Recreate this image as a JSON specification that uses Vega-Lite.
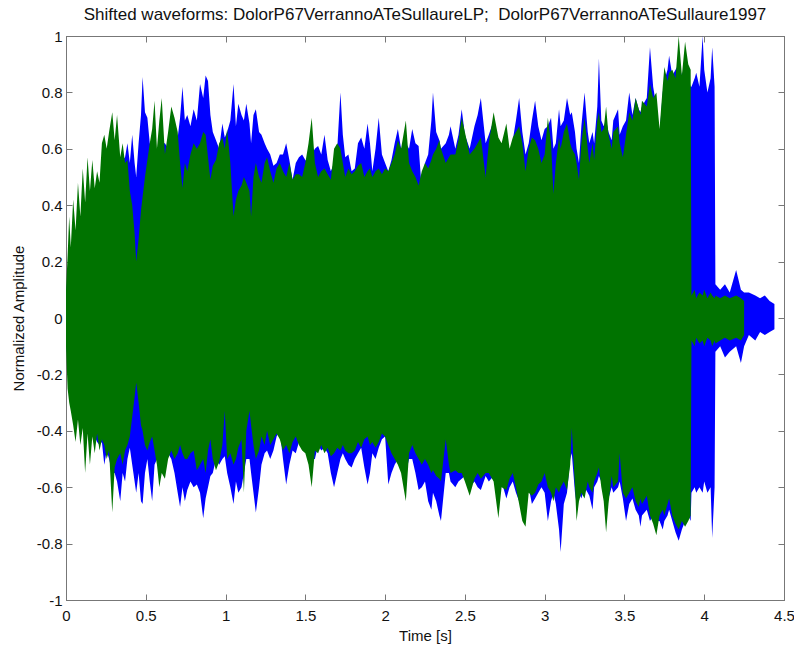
{
  "$schema": "https://vega.github.io/schema/vega-lite/v6.json",
  "width": 718,
  "height": 564,
  "autosize": {"type": "none"},
  "padding": {"left": 66, "top": 36, "right": 10, "bottom": 46},
  "background": "white",
  "title": {"text": "Shifted waveforms: DolorP67VerrannoATeSullaureLP;\u00a0 DolorP67VerrannoATeSullaure1997", "font": "Liberation Sans", "fontSize": 17, "fontWeight": "normal", "color": "#111", "offset": 5},
  "config": {
    "view": {"stroke": "#777", "strokeWidth": 1},
    "axis": {"labelFont": "Liberation Sans", "titleFont": "Liberation Sans", "labelFontSize": 15, "titleFontSize": 15, "titleFontWeight": "normal", "labelColor": "#111", "titleColor": "#111", "grid": false, "domainColor": "#777", "tickColor": "#777", "tickSize": -6, "labelFlush": false}
  },
  "data": {"values": [
{"t":0.000,"gh":0.10,"bh":0.08,"gl":-0.10,"bl":-0.08},
{"t":0.010,"gh":0.22,"bh":0.15,"gl":-0.25,"bl":-0.15},
{"t":0.020,"gh":0.36,"bh":0.20,"gl":-0.30,"bl":-0.20},
{"t":0.030,"gh":0.25,"bh":0.22,"gl":-0.33,"bl":-0.22},
{"t":0.045,"gh":0.42,"bh":0.25,"gl":-0.38,"bl":-0.25},
{"t":0.060,"gh":0.31,"bh":0.27,"gl":-0.44,"bl":-0.28},
{"t":0.075,"gh":0.48,"bh":0.30,"gl":-0.36,"bl":-0.30},
{"t":0.090,"gh":0.36,"bh":0.32,"gl":-0.45,"bl":-0.33},
{"t":0.105,"gh":0.53,"bh":0.34,"gl":-0.39,"bl":-0.35},
{"t":0.120,"gh":0.41,"bh":0.36,"gl":-0.55,"bl":-0.37},
{"t":0.135,"gh":0.57,"bh":0.38,"gl":-0.41,"bl":-0.38},
{"t":0.150,"gh":0.45,"bh":0.40,"gl":-0.52,"bl":-0.40},
{"t":0.165,"gh":0.56,"bh":0.42,"gl":-0.42,"bl":-0.40},
{"t":0.180,"gh":0.46,"bh":0.43,"gl":-0.48,"bl":-0.42},
{"t":0.195,"gh":0.52,"bh":0.45,"gl":-0.41,"bl":-0.44},
{"t":0.210,"gh":0.48,"bh":0.46,"gl":-0.47,"bl":-0.45},
{"t":0.225,"gh":0.62,"bh":0.48,"gl":-0.43,"bl":-0.44},
{"t":0.240,"gh":0.65,"bh":0.50,"gl":-0.45,"bl":-0.52},
{"t":0.255,"gh":0.60,"bh":0.52,"gl":-0.50,"bl":-0.47},
{"t":0.270,"gh":0.66,"bh":0.55,"gl":-0.47,"bl":-0.50},
{"t":0.290,"gh":0.73,"bh":0.58,"gl":-0.69,"bl":-0.55},
{"t":0.305,"gh":0.63,"bh":0.60,"gl":-0.53,"bl":-0.55},
{"t":0.320,"gh":0.72,"bh":0.60,"gl":-0.50,"bl":-0.58},
{"t":0.340,"gh":0.57,"bh":0.55,"gl":-0.48,"bl":-0.65},
{"t":0.355,"gh":0.62,"bh":0.56,"gl":-0.52,"bl":-0.55},
{"t":0.370,"gh":0.55,"bh":0.57,"gl":-0.47,"bl":-0.58},
{"t":0.385,"gh":0.56,"bh":0.62,"gl":-0.45,"bl":-0.50},
{"t":0.400,"gh":0.45,"bh":0.55,"gl":-0.42,"bl":-0.46},
{"t":0.415,"gh":0.40,"bh":0.65,"gl":-0.35,"bl":-0.52},
{"t":0.430,"gh":0.30,"bh":0.55,"gl":-0.28,"bl":-0.58},
{"t":0.440,"gh":0.20,"bh":0.50,"gl":-0.23,"bl":-0.62},
{"t":0.455,"gh":0.28,"bh":0.62,"gl":-0.30,"bl":-0.55},
{"t":0.470,"gh":0.38,"bh":0.72,"gl":-0.38,"bl":-0.65},
{"t":0.480,"gh":0.43,"bh":0.855,"gl":-0.40,"bl":-0.66},
{"t":0.495,"gh":0.50,"bh":0.73,"gl":-0.45,"bl":-0.55},
{"t":0.510,"gh":0.56,"bh":0.71,"gl":-0.47,"bl":-0.50},
{"t":0.525,"gh":0.62,"bh":0.62,"gl":-0.44,"bl":-0.58},
{"t":0.540,"gh":0.67,"bh":0.60,"gl":-0.42,"bl":-0.65},
{"t":0.555,"gh":0.77,"bh":0.62,"gl":-0.47,"bl":-0.52},
{"t":0.570,"gh":0.60,"bh":0.58,"gl":-0.52,"bl":-0.50},
{"t":0.585,"gh":0.70,"bh":0.58,"gl":-0.60,"bl":-0.55},
{"t":0.600,"gh":0.78,"bh":0.62,"gl":-0.55,"bl":-0.52},
{"t":0.620,"gh":0.58,"bh":0.62,"gl":-0.57,"bl":-0.50},
{"t":0.640,"gh":0.66,"bh":0.60,"gl":-0.50,"bl":-0.48},
{"t":0.660,"gh":0.75,"bh":0.62,"gl":-0.47,"bl":-0.50},
{"t":0.680,"gh":0.71,"bh":0.63,"gl":-0.50,"bl":-0.55},
{"t":0.700,"gh":0.66,"bh":0.64,"gl":-0.48,"bl":-0.62},
{"t":0.715,"gh":0.55,"bh":0.71,"gl":-0.45,"bl":-0.67},
{"t":0.730,"gh":0.46,"bh":0.82,"gl":-0.48,"bl":-0.60},
{"t":0.745,"gh":0.55,"bh":0.70,"gl":-0.50,"bl":-0.65},
{"t":0.760,"gh":0.52,"bh":0.72,"gl":-0.50,"bl":-0.61},
{"t":0.780,"gh":0.58,"bh":0.68,"gl":-0.48,"bl":-0.58},
{"t":0.800,"gh":0.62,"bh":0.74,"gl":-0.47,"bl":-0.60},
{"t":0.820,"gh":0.60,"bh":0.70,"gl":-0.54,"bl":-0.59},
{"t":0.840,"gh":0.62,"bh":0.83,"gl":-0.52,"bl":-0.62},
{"t":0.860,"gh":0.66,"bh":0.78,"gl":-0.50,"bl":-0.71},
{"t":0.875,"gh":0.65,"bh":0.86,"gl":-0.55,"bl":-0.64},
{"t":0.890,"gh":0.57,"bh":0.84,"gl":-0.47,"bl":-0.60},
{"t":0.905,"gh":0.49,"bh":0.72,"gl":-0.43,"bl":-0.56},
{"t":0.920,"gh":0.54,"bh":0.66,"gl":-0.50,"bl":-0.55},
{"t":0.940,"gh":0.56,"bh":0.63,"gl":-0.54,"bl":-0.50},
{"t":0.960,"gh":0.62,"bh":0.60,"gl":-0.51,"bl":-0.52},
{"t":0.980,"gh":0.64,"bh":0.69,"gl":-0.45,"bl":-0.50},
{"t":0.995,"gh":0.60,"bh":0.64,"gl":-0.33,"bl":-0.49},
{"t":1.010,"gh":0.67,"bh":0.66,"gl":-0.50,"bl":-0.55},
{"t":1.030,"gh":0.55,"bh":0.70,"gl":-0.48,"bl":-0.60},
{"t":1.050,"gh":0.36,"bh":0.83,"gl":-0.52,"bl":-0.66},
{"t":1.065,"gh":0.42,"bh":0.68,"gl":-0.50,"bl":-0.58},
{"t":1.080,"gh":0.45,"bh":0.76,"gl":-0.46,"bl":-0.62},
{"t":1.100,"gh":0.47,"bh":0.72,"gl":-0.43,"bl":-0.60},
{"t":1.115,"gh":0.50,"bh":0.70,"gl":-0.62,"bl":-0.55},
{"t":1.130,"gh":0.48,"bh":0.76,"gl":-0.40,"bl":-0.50},
{"t":1.150,"gh":0.45,"bh":0.69,"gl":-0.33,"bl":-0.50},
{"t":1.160,"gh":0.36,"bh":0.62,"gl":-0.38,"bl":-0.55},
{"t":1.175,"gh":0.50,"bh":0.72,"gl":-0.45,"bl":-0.62},
{"t":1.190,"gh":0.55,"bh":0.74,"gl":-0.50,"bl":-0.69},
{"t":1.210,"gh":0.50,"bh":0.66,"gl":-0.47,"bl":-0.60},
{"t":1.225,"gh":0.48,"bh":0.65,"gl":-0.42,"bl":-0.52},
{"t":1.245,"gh":0.55,"bh":0.62,"gl":-0.45,"bl":-0.48},
{"t":1.260,"gh":0.57,"bh":0.60,"gl":-0.40,"bl":-0.47},
{"t":1.280,"gh":0.52,"bh":0.58,"gl":-0.45,"bl":-0.50},
{"t":1.300,"gh":0.48,"bh":0.54,"gl":-0.43,"bl":-0.47},
{"t":1.320,"gh":0.53,"bh":0.55,"gl":-0.41,"bl":-0.42},
{"t":1.340,"gh":0.55,"bh":0.58,"gl":-0.43,"bl":-0.40},
{"t":1.360,"gh":0.52,"bh":0.58,"gl":-0.47,"bl":-0.50},
{"t":1.380,"gh":0.50,"bh":0.62,"gl":-0.45,"bl":-0.59},
{"t":1.400,"gh":0.55,"bh":0.56,"gl":-0.48,"bl":-0.52},
{"t":1.420,"gh":0.49,"bh":0.49,"gl":-0.44,"bl":-0.47},
{"t":1.440,"gh":0.51,"bh":0.55,"gl":-0.42,"bl":-0.48},
{"t":1.460,"gh":0.51,"bh":0.57,"gl":-0.45,"bl":-0.44},
{"t":1.480,"gh":0.50,"bh":0.58,"gl":-0.47,"bl":-0.42},
{"t":1.500,"gh":0.55,"bh":0.56,"gl":-0.48,"bl":-0.45},
{"t":1.520,"gh":0.62,"bh":0.55,"gl":-0.52,"bl":-0.48},
{"t":1.540,"gh":0.71,"bh":0.58,"gl":-0.60,"bl":-0.50},
{"t":1.560,"gh":0.55,"bh":0.60,"gl":-0.47,"bl":-0.50},
{"t":1.580,"gh":0.50,"bh":0.61,"gl":-0.48,"bl":-0.45},
{"t":1.600,"gh":0.52,"bh":0.58,"gl":-0.45,"bl":-0.47},
{"t":1.620,"gh":0.53,"bh":0.65,"gl":-0.48,"bl":-0.46},
{"t":1.640,"gh":0.51,"bh":0.56,"gl":-0.46,"bl":-0.48},
{"t":1.660,"gh":0.49,"bh":0.52,"gl":-0.49,"bl":-0.55},
{"t":1.680,"gh":0.60,"bh":0.55,"gl":-0.48,"bl":-0.60},
{"t":1.700,"gh":0.62,"bh":0.60,"gl":-0.46,"bl":-0.55},
{"t":1.720,"gh":0.60,"bh":0.80,"gl":-0.47,"bl":-0.50},
{"t":1.735,"gh":0.55,"bh":0.65,"gl":-0.45,"bl":-0.48},
{"t":1.750,"gh":0.50,"bh":0.57,"gl":-0.47,"bl":-0.50},
{"t":1.770,"gh":0.53,"bh":0.58,"gl":-0.48,"bl":-0.52},
{"t":1.790,"gh":0.51,"bh":0.52,"gl":-0.48,"bl":-0.53},
{"t":1.810,"gh":0.52,"bh":0.53,"gl":-0.47,"bl":-0.50},
{"t":1.830,"gh":0.54,"bh":0.62,"gl":-0.44,"bl":-0.48},
{"t":1.850,"gh":0.55,"bh":0.64,"gl":-0.46,"bl":-0.46},
{"t":1.870,"gh":0.50,"bh":0.60,"gl":-0.43,"bl":-0.53},
{"t":1.890,"gh":0.52,"bh":0.69,"gl":-0.42,"bl":-0.59},
{"t":1.905,"gh":0.53,"bh":0.62,"gl":-0.45,"bl":-0.55},
{"t":1.920,"gh":0.50,"bh":0.52,"gl":-0.44,"bl":-0.48},
{"t":1.940,"gh":0.52,"bh":0.60,"gl":-0.46,"bl":-0.50},
{"t":1.960,"gh":0.53,"bh":0.71,"gl":-0.44,"bl":-0.46},
{"t":1.980,"gh":0.51,"bh":0.58,"gl":-0.41,"bl":-0.43},
{"t":2.000,"gh":0.53,"bh":0.55,"gl":-0.42,"bl":-0.42},
{"t":2.020,"gh":0.52,"bh":0.52,"gl":-0.45,"bl":-0.59},
{"t":2.040,"gh":0.55,"bh":0.56,"gl":-0.48,"bl":-0.55},
{"t":2.060,"gh":0.58,"bh":0.62,"gl":-0.50,"bl":-0.52},
{"t":2.080,"gh":0.63,"bh":0.67,"gl":-0.52,"bl":-0.50},
{"t":2.100,"gh":0.60,"bh":0.60,"gl":-0.55,"bl":-0.52},
{"t":2.130,"gh":0.70,"bh":0.62,"gl":-0.65,"bl":-0.55},
{"t":2.150,"gh":0.55,"bh":0.60,"gl":-0.48,"bl":-0.50},
{"t":2.170,"gh":0.52,"bh":0.67,"gl":-0.45,"bl":-0.50},
{"t":2.190,"gh":0.50,"bh":0.62,"gl":-0.48,"bl":-0.55},
{"t":2.210,"gh":0.47,"bh":0.61,"gl":-0.50,"bl":-0.61},
{"t":2.230,"gh":0.52,"bh":0.45,"gl":-0.52,"bl":-0.60},
{"t":2.250,"gh":0.55,"bh":0.55,"gl":-0.50,"bl":-0.58},
{"t":2.270,"gh":0.53,"bh":0.58,"gl":-0.52,"bl":-0.65},
{"t":2.290,"gh":0.56,"bh":0.70,"gl":-0.55,"bl":-0.68},
{"t":2.300,"gh":0.58,"bh":0.80,"gl":-0.54,"bl":-0.62},
{"t":2.320,"gh":0.60,"bh":0.66,"gl":-0.56,"bl":-0.65},
{"t":2.340,"gh":0.63,"bh":0.63,"gl":-0.57,"bl":-0.70},
{"t":2.350,"gh":0.60,"bh":0.60,"gl":-0.58,"bl":-0.72},
{"t":2.380,"gh":0.55,"bh":0.62,"gl":-0.43,"bl":-0.55},
{"t":2.400,"gh":0.57,"bh":0.65,"gl":-0.52,"bl":-0.55},
{"t":2.410,"gh":0.58,"bh":0.68,"gl":-0.55,"bl":-0.58},
{"t":2.440,"gh":0.58,"bh":0.60,"gl":-0.54,"bl":-0.60},
{"t":2.460,"gh":0.63,"bh":0.65,"gl":-0.55,"bl":-0.58},
{"t":2.480,"gh":0.71,"bh":0.74,"gl":-0.55,"bl":-0.57},
{"t":2.500,"gh":0.66,"bh":0.65,"gl":-0.58,"bl":-0.56},
{"t":2.530,"gh":0.58,"bh":0.60,"gl":-0.63,"bl":-0.60},
{"t":2.560,"gh":0.60,"bh":0.68,"gl":-0.57,"bl":-0.58},
{"t":2.580,"gh":0.62,"bh":0.72,"gl":-0.55,"bl":-0.60},
{"t":2.600,"gh":0.64,"bh":0.78,"gl":-0.57,"bl":-0.61},
{"t":2.630,"gh":0.50,"bh":0.62,"gl":-0.55,"bl":-0.56},
{"t":2.650,"gh":0.62,"bh":0.65,"gl":-0.55,"bl":-0.58},
{"t":2.680,"gh":0.73,"bh":0.70,"gl":-0.58,"bl":-0.56},
{"t":2.710,"gh":0.64,"bh":0.60,"gl":-0.71,"bl":-0.60},
{"t":2.730,"gh":0.62,"bh":0.58,"gl":-0.60,"bl":-0.58},
{"t":2.760,"gh":0.69,"bh":0.62,"gl":-0.61,"bl":-0.64},
{"t":2.780,"gh":0.60,"bh":0.58,"gl":-0.57,"bl":-0.60},
{"t":2.800,"gh":0.64,"bh":0.63,"gl":-0.55,"bl":-0.58},
{"t":2.820,"gh":0.66,"bh":0.70,"gl":-0.60,"bl":-0.62},
{"t":2.840,"gh":0.68,"bh":0.78,"gl":-0.66,"bl":-0.65},
{"t":2.860,"gh":0.62,"bh":0.66,"gl":-0.72,"bl":-0.68},
{"t":2.880,"gh":0.52,"bh":0.58,"gl":-0.74,"bl":-0.65},
{"t":2.900,"gh":0.60,"bh":0.62,"gl":-0.62,"bl":-0.60},
{"t":2.920,"gh":0.64,"bh":0.70,"gl":-0.63,"bl":-0.66},
{"t":2.940,"gh":0.63,"bh":0.77,"gl":-0.62,"bl":-0.64},
{"t":2.960,"gh":0.60,"bh":0.68,"gl":-0.59,"bl":-0.62},
{"t":2.980,"gh":0.55,"bh":0.63,"gl":-0.58,"bl":-0.60},
{"t":3.000,"gh":0.58,"bh":0.67,"gl":-0.55,"bl":-0.62},
{"t":3.020,"gh":0.71,"bh":0.68,"gl":-0.60,"bl":-0.72},
{"t":3.040,"gh":0.62,"bh":0.71,"gl":-0.62,"bl":-0.65},
{"t":3.055,"gh":0.44,"bh":0.60,"gl":-0.65,"bl":-0.62},
{"t":3.070,"gh":0.55,"bh":0.62,"gl":-0.60,"bl":-0.66},
{"t":3.090,"gh":0.64,"bh":0.74,"gl":-0.62,"bl":-0.75},
{"t":3.100,"gh":0.60,"bh":0.68,"gl":-0.60,"bl":-0.83},
{"t":3.120,"gh":0.66,"bh":0.70,"gl":-0.58,"bl":-0.66},
{"t":3.140,"gh":0.69,"bh":0.78,"gl":-0.61,"bl":-0.62},
{"t":3.160,"gh":0.62,"bh":0.72,"gl":-0.52,"bl":-0.50},
{"t":3.170,"gh":0.60,"bh":0.73,"gl":-0.39,"bl":-0.48},
{"t":3.190,"gh":0.58,"bh":0.66,"gl":-0.60,"bl":-0.62},
{"t":3.200,"gh":0.55,"bh":0.60,"gl":-0.72,"bl":-0.66},
{"t":3.215,"gh":0.49,"bh":0.55,"gl":-0.65,"bl":-0.62},
{"t":3.230,"gh":0.62,"bh":0.68,"gl":-0.62,"bl":-0.64},
{"t":3.250,"gh":0.71,"bh":0.80,"gl":-0.64,"bl":-0.60},
{"t":3.270,"gh":0.60,"bh":0.66,"gl":-0.58,"bl":-0.62},
{"t":3.280,"gh":0.55,"bh":0.62,"gl":-0.60,"bl":-0.63},
{"t":3.300,"gh":0.62,"bh":0.66,"gl":-0.62,"bl":-0.68},
{"t":3.310,"gh":0.56,"bh":0.62,"gl":-0.58,"bl":-0.60},
{"t":3.330,"gh":0.70,"bh":0.75,"gl":-0.55,"bl":-0.58},
{"t":3.340,"gh":0.73,"bh":0.92,"gl":-0.53,"bl":-0.56},
{"t":3.355,"gh":0.66,"bh":0.70,"gl":-0.60,"bl":-0.58},
{"t":3.370,"gh":0.67,"bh":0.68,"gl":-0.65,"bl":-0.62},
{"t":3.385,"gh":0.75,"bh":0.70,"gl":-0.76,"bl":-0.66},
{"t":3.400,"gh":0.65,"bh":0.66,"gl":-0.66,"bl":-0.64},
{"t":3.420,"gh":0.60,"bh":0.63,"gl":-0.56,"bl":-0.60},
{"t":3.430,"gh":0.66,"bh":0.70,"gl":-0.60,"bl":-0.62},
{"t":3.460,"gh":0.68,"bh":0.74,"gl":-0.58,"bl":-0.60},
{"t":3.470,"gh":0.62,"bh":0.65,"gl":-0.48,"bl":-0.58},
{"t":3.490,"gh":0.57,"bh":0.68,"gl":-0.62,"bl":-0.64},
{"t":3.510,"gh":0.65,"bh":0.70,"gl":-0.64,"bl":-0.72},
{"t":3.530,"gh":0.73,"bh":0.80,"gl":-0.62,"bl":-0.66},
{"t":3.550,"gh":0.70,"bh":0.72,"gl":-0.60,"bl":-0.64},
{"t":3.570,"gh":0.78,"bh":0.78,"gl":-0.65,"bl":-0.68},
{"t":3.590,"gh":0.74,"bh":0.74,"gl":-0.67,"bl":-0.70},
{"t":3.600,"gh":0.72,"bh":0.73,"gl":-0.64,"bl":-0.74},
{"t":3.610,"gh":0.77,"bh":0.75,"gl":-0.66,"bl":-0.70},
{"t":3.640,"gh":0.75,"bh":0.78,"gl":-0.63,"bl":-0.68},
{"t":3.660,"gh":0.83,"bh":0.96,"gl":-0.70,"bl":-0.72},
{"t":3.680,"gh":0.78,"bh":0.82,"gl":-0.73,"bl":-0.70},
{"t":3.700,"gh":0.80,"bh":0.75,"gl":-0.77,"bl":-0.72},
{"t":3.720,"gh":0.67,"bh":0.65,"gl":-0.70,"bl":-0.72},
{"t":3.740,"gh":0.82,"bh":0.80,"gl":-0.68,"bl":-0.75},
{"t":3.750,"gh":0.89,"bh":0.84,"gl":-0.70,"bl":-0.72},
{"t":3.770,"gh":0.84,"bh":0.88,"gl":-0.66,"bl":-0.70},
{"t":3.780,"gh":0.87,"bh":0.93,"gl":-0.64,"bl":-0.68},
{"t":3.800,"gh":0.88,"bh":0.86,"gl":-0.70,"bl":-0.72},
{"t":3.820,"gh":0.85,"bh":0.88,"gl":-0.73,"bl":-0.76},
{"t":3.840,"gh":1.00,"bh":0.90,"gl":-0.75,"bl":-0.79},
{"t":3.860,"gh":0.86,"bh":0.86,"gl":-0.72,"bl":-0.75},
{"t":3.880,"gh":0.98,"bh":0.90,"gl":-0.74,"bl":-0.72},
{"t":3.900,"gh":0.90,"bh":0.85,"gl":-0.72,"bl":-0.70},
{"t":3.915,"gh":0.88,"bh":0.82,"gl":-0.70,"bl":-0.72},
{"t":3.920,"gh":0.08,"bh":0.82,"gl":-0.08,"bl":-0.62},
{"t":3.940,"gh":0.10,"bh":0.85,"gl":-0.10,"bl":-0.60},
{"t":3.950,"gh":0.07,"bh":0.87,"gl":-0.07,"bl":-0.62},
{"t":3.970,"gh":0.09,"bh":0.82,"gl":-0.09,"bl":-0.60},
{"t":3.990,"gh":0.08,"bh":1.00,"gl":-0.08,"bl":-0.62},
{"t":4.000,"gh":0.10,"bh":0.88,"gl":-0.10,"bl":-0.58},
{"t":4.020,"gh":0.07,"bh":0.80,"gl":-0.07,"bl":-0.62},
{"t":4.040,"gh":0.09,"bh":0.85,"gl":-0.08,"bl":-0.60},
{"t":4.050,"gh":0.08,"bh":0.96,"gl":-0.10,"bl":-0.78},
{"t":4.065,"gh":0.07,"bh":0.82,"gl":-0.08,"bl":-0.60},
{"t":4.070,"gh":0.08,"bh":0.12,"gl":-0.09,"bl":-0.12},
{"t":4.100,"gh":0.07,"bh":0.10,"gl":-0.08,"bl":-0.10},
{"t":4.130,"gh":0.08,"bh":0.12,"gl":-0.07,"bl":-0.14},
{"t":4.160,"gh":0.07,"bh":0.09,"gl":-0.08,"bl":-0.12},
{"t":4.200,"gh":0.08,"bh":0.17,"gl":-0.07,"bl":-0.10},
{"t":4.230,"gh":0.07,"bh":0.10,"gl":-0.08,"bl":-0.16},
{"t":4.250,"gh":0.06,"bh":0.09,"gl":-0.06,"bl":-0.10},
{"t":4.280,"bh":0.09,"bl":-0.06},
{"t":4.320,"bh":0.08,"bl":-0.08},
{"t":4.350,"bh":0.07,"bl":-0.05},
{"t":4.380,"bh":0.08,"bl":-0.06},
{"t":4.410,"bh":0.06,"bl":-0.05},
{"t":4.440,"bh":0.05,"bl":-0.04}
  ]},
  "resolve": {"axis": {"x": "independent", "y": "independent"}},
  "layer": [
    {
      "mark": {"type": "area", "color": "#0000ff", "interpolate": "linear"},
      "encoding": {
        "x": {"field": "t", "type": "quantitative", "scale": {"domain": [0, 4.5], "nice": false, "zero": false},
              "axis": {"orient": "bottom", "title": "Time [s]", "values": [0,0.5,1,1.5,2,2.5,3,3.5,4,4.5], "format": "~g", "labelPadding": 14, "titlePadding": 5}},
        "y": {"field": "bh", "type": "quantitative", "scale": {"domain": [-1, 1], "nice": false, "zero": false},
              "axis": {"orient": "left", "title": "Normalized Amplitude", "values": [-1,-0.8,-0.6,-0.4,-0.2,0,0.2,0.4,0.6,0.8,1], "format": "~g", "labelExpr": "replace(datum.label, '\u2212', '-')", "labelPadding": 10, "titlePadding": 10}},
        "y2": {"field": "bl"}
      }
    },
    {
      "mark": {"type": "area", "color": "#007300", "interpolate": "linear"},
      "encoding": {
        "x": {"field": "t", "type": "quantitative", "axis": {"orient": "top", "title": null, "labels": false, "values": [0,0.5,1,1.5,2,2.5,3,3.5,4,4.5]}},
        "y": {"field": "gh", "type": "quantitative", "axis": {"orient": "right", "title": null, "labels": false, "values": [-1,-0.8,-0.6,-0.4,-0.2,0,0.2,0.4,0.6,0.8,1]}},
        "y2": {"field": "gl"}
      }
    }
  ]
}
